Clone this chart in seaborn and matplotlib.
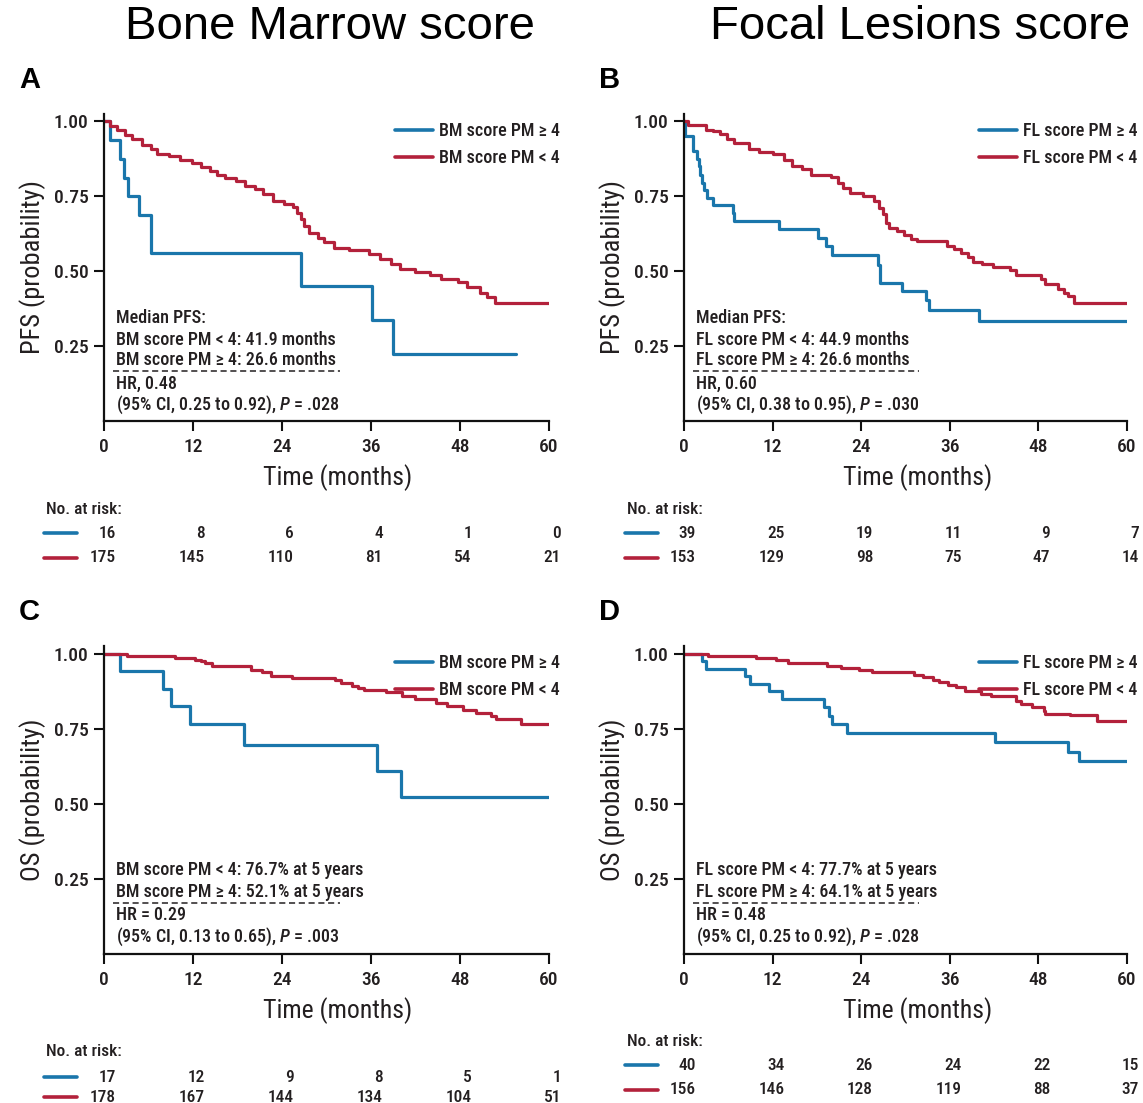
import numpy as np
import pandas as pd
import seaborn as sns
import matplotlib
matplotlib.use("Agg")
import matplotlib.pyplot as plt
from matplotlib.lines import Line2D
from matplotlib import transforms, font_manager

# ---------------- data ----------------
months_ticks = [0, 12, 24, 36, 48, 60]

# Panel A: PFS by bone marrow score
A_hi_t = [0, 0.85, 2.1, 2.7, 3.2, 4.7, 6.3, 6.4, 26.6, 36.2, 39.0, 55.5]
A_hi_s = [1.0, 0.9375, 0.875, 0.8125, 0.75, 0.6875, 0.625, 0.5625, 0.45, 0.338, 0.225, 0.225]
A_lo_t = [0, 0.85, 1.8, 2.8, 3.8, 5.1, 6.3, 7.1, 8.8, 10.3, 11.8, 13.1, 14.3, 15.3, 16.3,
          17.8, 19.0, 20.3, 21.5, 22.8, 24.3, 25.5, 26.0, 26.5, 27.0, 27.7, 28.8, 29.7,
          31.0, 33.0, 35.7, 37.2, 38.7, 39.9, 41.9, 43.9, 45.4, 47.7, 48.9, 50.7, 51.7,
          52.7, 60.0]
A_lo_s = [1.0, 0.985, 0.97, 0.956, 0.94, 0.923, 0.909, 0.893, 0.884, 0.871, 0.862, 0.849,
          0.834, 0.823, 0.812, 0.801, 0.784, 0.776, 0.757, 0.734, 0.723, 0.716, 0.696,
          0.673, 0.651, 0.629, 0.612, 0.596, 0.579, 0.571, 0.557, 0.54, 0.523, 0.507,
          0.499, 0.487, 0.473, 0.464, 0.446, 0.429, 0.414, 0.393, 0.393]
A_risk_hi = [16, 8, 6, 4, 1, 0]
A_risk_lo = [175, 145, 110, 81, 54, 21]

# Panel B: PFS by focal lesions score
B_hi_t = [0, 0.2, 1.2, 1.7, 2.0, 2.2, 2.5, 2.7, 3.1, 3.9, 6.6, 6.8, 12.9, 18.2, 19.3,
          20.1, 26.3, 26.6, 29.5, 32.8, 33.2, 39.9, 60.0]
B_hi_s = [1.0, 0.95, 0.90, 0.875, 0.85, 0.82, 0.795, 0.77, 0.745, 0.72, 0.695, 0.667,
          0.642, 0.611, 0.583, 0.555, 0.52, 0.46, 0.434, 0.405, 0.372, 0.335, 0.335]
B_lo_t = [0, 0.5, 2.95, 3.9, 4.9, 5.85, 6.8, 8.75, 10.2, 12.1, 13.6, 14.6, 16.0, 17.2,
          19.9, 20.8, 21.6, 22.5, 24.2, 25.7, 26.4, 26.9, 27.4, 27.7, 28.8, 29.8, 30.8,
          31.5, 35.6, 36.6, 37.5, 38.5, 39.2, 40.4, 41.9, 44.1, 44.9, 48.4, 48.9, 50.6,
          51.5, 52.0, 52.8, 60.0]
B_lo_s = [1.0, 0.987, 0.973, 0.968, 0.957, 0.94, 0.927, 0.909, 0.898, 0.89, 0.873, 0.853,
          0.84, 0.823, 0.816, 0.796, 0.779, 0.762, 0.751, 0.734, 0.712, 0.69, 0.662,
          0.646, 0.634, 0.62, 0.607, 0.601, 0.584, 0.573, 0.562, 0.546, 0.531, 0.523,
          0.515, 0.503, 0.487, 0.473, 0.457, 0.44, 0.429, 0.416, 0.393, 0.393]
B_risk_hi = [39, 25, 19, 11, 9, 7]
B_risk_lo = [153, 129, 98, 75, 47, 14]

# Panel C: OS by bone marrow score
C_hi_t = [0, 2.2, 8.0, 9.0, 11.6, 18.9, 36.8, 40.1, 60.0]
C_hi_s = [1.0, 0.941, 0.882, 0.824, 0.765, 0.697, 0.609, 0.521, 0.521]
C_lo_t = [0, 3.1, 9.6, 12.3, 13.1, 13.6, 14.5, 19.8, 21.3, 22.5, 25.3, 31.2, 32.0, 33.5,
          34.2, 35.0, 38.0, 40.2, 41.9, 44.7, 46.2, 48.4, 50.2, 52.2, 52.9, 56.2, 60.0]
C_lo_s = [1.0, 0.993, 0.986, 0.98, 0.974, 0.967, 0.957, 0.946, 0.937, 0.924, 0.918,
          0.911, 0.901, 0.893, 0.886, 0.878, 0.871, 0.86, 0.848, 0.834, 0.824, 0.811,
          0.802, 0.793, 0.781, 0.767, 0.767]
C_risk_hi = [17, 12, 9, 8, 5, 1]
C_risk_lo = [178, 167, 144, 134, 104, 51]

# Panel D: OS by focal lesions score
D_hi_t = [0, 2.4, 3.0, 8.2, 9.0, 11.5, 13.3, 18.9, 19.7, 20.0, 22.1, 42.1, 52.0, 53.5, 60.0]
D_hi_s = [1.0, 0.975, 0.95, 0.925, 0.90, 0.875, 0.85, 0.822, 0.793, 0.764, 0.734, 0.705,
          0.673, 0.641, 0.641]
D_lo_t = [0, 3.2, 9.7, 12.4, 14.1, 19.4, 21.3, 23.7, 25.4, 31.2, 32.4, 33.7, 34.6, 35.8,
          36.8, 38.0, 40.2, 41.6, 44.9, 45.7, 47.2, 48.7, 48.9, 52.3, 55.9, 60.0]
D_lo_s = [1.0, 0.992, 0.985, 0.978, 0.97, 0.96, 0.952, 0.945, 0.94, 0.93, 0.922, 0.913,
          0.904, 0.895, 0.887, 0.876, 0.866, 0.857, 0.843, 0.832, 0.823, 0.81, 0.80,
          0.794, 0.777, 0.777]
D_risk_hi = [40, 34, 26, 24, 22, 15]
D_risk_lo = [156, 146, 128, 119, 88, 37]

# ---------------- style ----------------
sns.set_theme(style="ticks")


def pick_narrow_font():
    """Return (family, stretch) for the narrowest sans face available."""
    entries = font_manager.fontManager.ttflist
    names = {f.name for f in entries}
    for name in ("Roboto Condensed", "Liberation Sans Narrow", "Open Sans Condensed",
                 "Noto Sans Condensed", "DejaVu Sans Condensed", "Arial Narrow"):
        if name in names:
            return name, "normal"
    for pref in ("Roboto", "Noto Sans", "Open Sans", "DejaVu Sans", "Inter", "Lato"):
        for f in entries:
            if f.name == pref and str(f.stretch) in ("condensed", "semi-condensed",
                                                      "extra-condensed") \
                    and f.style == "normal":
                return pref, str(f.stretch)
    for f in entries:
        if ("Condensed" in f.name or "Narrow" in f.name) and f.style == "normal":
            return f.name, "normal"
    return "Liberation Sans", "normal"


cond, stretch = pick_narrow_font()
plt.rcParams["font.family"] = [cond, "DejaVu Sans"]
plt.rcParams["font.stretch"] = stretch
plt.rcParams["font.weight"] = 500
plt.rcParams["mathtext.fontset"] = "custom"
plt.rcParams["mathtext.it"] = f"{cond}:italic:medium"
plt.rcParams["mathtext.rm"] = f"{cond}:medium"

BLUE = "#1a76ab"
RED = "#b3213b"
TXT = "#231f20"

W, H = 1143, 1103
fig = plt.figure(figsize=(W / 100, H / 100), dpi=100)


def fx(x):
    return x / W


def fy(y):
    return 1 - y / H


panels = [
    dict(letter="A", rect=[104, 421, 445, 307], top=114, ylabel="PFS (probability)",
         hi=(A_hi_t, A_hi_s), lo=(A_lo_t, A_lo_s), prefix="BM",
         risk=(A_risk_hi, A_risk_lo), risk_y=(509, 533, 558), risk_x=46,
         notes=["Median PFS:", "BM score PM < 4: 41.9 months", "BM score PM \u2265 4: 26.6 months",
                "HR, 0.48", "(95% CI, 0.25 to 0.92), $\\mathit{P}$ = .028"]),
    dict(letter="B", rect=[684, 421, 443, 307], top=114, ylabel="PFS (probability)",
         hi=(B_hi_t, B_hi_s), lo=(B_lo_t, B_lo_s), prefix="FL",
         risk=(B_risk_hi, B_risk_lo), risk_y=(509, 533, 558), risk_x=627,
         notes=["Median PFS:", "FL score PM < 4: 44.9 months", "FL score PM \u2265 4: 26.6 months",
                "HR, 0.60", "(95% CI, 0.38 to 0.95), $\\mathit{P}$ = .030"]),
    dict(letter="C", rect=[104, 954, 445, 308], top=646, ylabel="OS (probability)",
         hi=(C_hi_t, C_hi_s), lo=(C_lo_t, C_lo_s), prefix="BM",
         risk=(C_risk_hi, C_risk_lo), risk_y=(1052, 1077, 1097), risk_x=46,
         notes=[None, "BM score PM < 4: 76.7% at 5 years", "BM score PM \u2265 4: 52.1% at 5 years",
                "HR = 0.29", "(95% CI, 0.13 to 0.65), $\\mathit{P}$ = .003"]),
    dict(letter="D", rect=[684, 954, 443, 308], top=646, ylabel="OS (probability)",
         hi=(D_hi_t, D_hi_s), lo=(D_lo_t, D_lo_s), prefix="FL",
         risk=(D_risk_hi, D_risk_lo), risk_y=(1041, 1065, 1090), risk_x=627,
         notes=[None, "FL score PM < 4: 77.7% at 5 years", "FL score PM \u2265 4: 64.1% at 5 years",
                "HR = 0.48", "(95% CI, 0.25 to 0.92), $\\mathit{P}$ = .028"]),
]

for p in panels:
    x0, ybot, w, h = p["rect"]
    ax = fig.add_axes([fx(x0), fy(ybot), w / W, h / H])
    ppu = (ybot - p["top"]) / 1.025  # pixels per unit survival

    lab_hi = f"{p['prefix']} score PM \u2265 4"
    lab_lo = f"{p['prefix']} score PM < 4"
    df = pd.concat([
        pd.DataFrame({"t": p["hi"][0], "s": p["hi"][1], "grp": lab_hi}),
        pd.DataFrame({"t": p["lo"][0], "s": p["lo"][1], "grp": lab_lo}),
    ], ignore_index=True)
    sns.lineplot(data=df, x="t", y="s", hue="grp", hue_order=[lab_hi, lab_lo],
                 palette=[BLUE, RED], estimator=None, sort=False,
                 drawstyle="steps-post", linewidth=2.3, legend=False, ax=ax)

    ax.set_xlim(0, 60)
    ax.set_ylim(0, 1.025)
    ax.set_xticks(months_ticks)
    ax.set_yticks([0.25, 0.5, 0.75, 1.0])
    ax.set_yticklabels(["0.25", "0.50", "0.75", "1.00"])
    sns.despine(ax=ax)
    for s in ("left", "bottom"):
        ax.spines[s].set_linewidth(1.6)
        ax.spines[s].set_color("#111111")
    ax.tick_params(axis="both", length=7, width=1.5, color="#111111",
                   labelsize=14, labelcolor=TXT, direction="out")
    ax.tick_params(axis="x", pad=5)
    ax.tick_params(axis="y", pad=4)

    ax.set_xlabel("Time (months)", fontsize=18.5, color=TXT, va="center")
    ax.xaxis.set_label_coords(234 / w, -57 / h)
    ax.set_ylabel(p["ylabel"], fontsize=19, color=TXT, va="center")
    ax.yaxis.set_label_coords(-71 / w, 0.5)

    # legend at the upper right
    handles = [Line2D([], [], color=BLUE, lw=2.6), Line2D([], [], color=RED, lw=2.6)]
    rx = x0 + w + 11
    ax.legend(handles, [lab_hi, lab_lo], loc="upper right",
              bbox_to_anchor=(fx(rx), fy(p["top"] + 8)), bbox_transform=fig.transFigure,
              frameon=False, fontsize=13, handlelength=2.1, handletextpad=0.35,
              labelspacing=0.5, borderaxespad=0, borderpad=0, labelcolor=TXT)

    # annotation block
    offs = [103, 81, 61, 37, 16] if p["notes"][0] else [103, 84, 62, 39, 17]
    for txt, dy in zip(p["notes"], offs):
        if txt:
            ax.text(1.6, dy / ppu, txt, fontsize=13, color=TXT, va="center", ha="left")
    dash_y = (50 if p["notes"][0] else 51) / ppu
    ax.plot([0.02, 0.53], [dash_y, dash_y], transform=ax.get_yaxis_transform(),
            color=TXT, lw=1.1, ls=(0, (4, 2.4)), clip_on=False)

    # panel letter
    fig.text(fx(x0 - 85), fy(p["top"] - 34), p["letter"], fontsize=21, fontweight="bold",
             family=["Liberation Sans", "DejaVu Sans"], color="black", ha="left", va="center")

    # number at risk table
    hy, r1, r2 = p["risk_y"]
    bt = transforms.blended_transform_factory(ax.transData, fig.transFigure)
    fig.text(fx(p["risk_x"]), fy(hy), "No. at risk:", fontsize=12.5, color=TXT,
             ha="left", va="center")
    for row_y, color, counts in ((r1, BLUE, p["risk"][0]), (r2, RED, p["risk"][1])):
        fig.add_artist(Line2D([fx(p["risk_x"] - 2), fx(p["risk_x"] + 31)],
                              [fy(row_y), fy(row_y)], color=color, lw=2.6))
        for t, n in zip(months_ticks, counts):
            ax.text(t + 1.6, fy(row_y), str(n), transform=bt, fontsize=12.5, color=TXT,
                    ha="right", va="center")

# column titles
fig.text(fx(330), fy(27), "Bone Marrow score", fontsize=34, color="black",
         family=["Liberation Sans", "DejaVu Sans"], fontweight="normal",
         ha="center", va="center")
fig.text(fx(920), fy(27), "Focal Lesions score", fontsize=34, color="black",
         family=["Liberation Sans", "DejaVu Sans"], fontweight="normal",
         ha="center", va="center")

fig.savefig("out.png", dpi=100, facecolor="white")
